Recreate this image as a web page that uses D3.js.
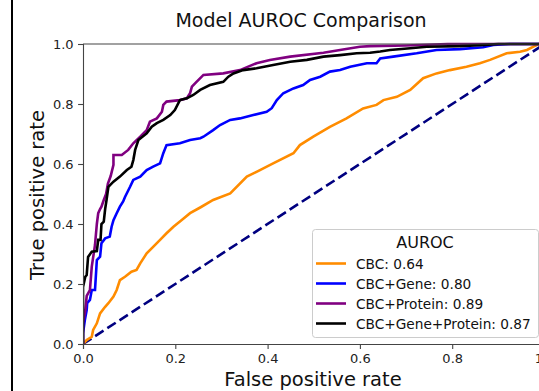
<!DOCTYPE html>
<html><head><meta charset="utf-8">
<script src="https://cdn.jsdelivr.net/npm/d3@7"></script>
<style>body{margin:0;background:#fff;} text{font-family:"DejaVu Sans",sans-serif;}</style>
</head><body>
<script>
// ---- data ----
const cbcFpr = [0,0.008,0.019,0.022,0.03,0.037,0.048,0.055,0.066,0.073,0.08,0.091,0.105,0.116,0.124,0.138,0.152,0.167,0.181,0.196,0.214,0.232,0.254,0.282,0.319,0.355,0.376,0.412,0.456,0.47,0.499,0.535,0.571,0.607,0.636,0.651,0.68,0.709,0.737,0.766,0.795,0.831,0.86,0.882,0.918,0.947,0.962,0.976,0.988,1];
const cbcTpr = [0,0.013,0.024,0.047,0.069,0.102,0.124,0.136,0.158,0.18,0.213,0.224,0.241,0.247,0.269,0.302,0.324,0.347,0.369,0.391,0.413,0.436,0.455,0.48,0.502,0.558,0.574,0.602,0.636,0.663,0.691,0.724,0.752,0.785,0.797,0.813,0.824,0.847,0.886,0.902,0.913,0.924,0.936,0.947,0.969,0.974,0.98,0.991,1.0,1.0];
const geneFpr = [0,0,0.004,0.008,0.009,0.015,0.019,0.026,0.03,0.037,0.04,0.048,0.058,0.062,0.066,0.073,0.08,0.087,0.091,0.102,0.109,0.124,0.138,0.152,0.167,0.174,0.181,0.21,0.232,0.254,0.261,0.282,0.297,0.319,0.34,0.369,0.398,0.409,0.42,0.434,0.456,0.477,0.492,0.514,0.535,0.557,0.579,0.615,0.636,0.644,0.672,0.723,0.766,0.817,0.867,0.889,0.925,1];
const geneTpr = [0,0.036,0.08,0.113,0.136,0.147,0.18,0.18,0.28,0.291,0.336,0.352,0.358,0.391,0.413,0.436,0.458,0.475,0.49,0.524,0.547,0.558,0.58,0.591,0.602,0.636,0.663,0.669,0.68,0.686,0.691,0.713,0.73,0.747,0.752,0.763,0.774,0.786,0.813,0.836,0.852,0.863,0.88,0.891,0.908,0.913,0.924,0.936,0.936,0.952,0.958,0.969,0.98,0.983,0.989,0.997,1,1];
const protFpr = [0,0,0.005,0.008,0.015,0.019,0.026,0.03,0.033,0.037,0.04,0.045,0.05,0.054,0.06,0.066,0.066,0.084,0.098,0.109,0.124,0.138,0.145,0.16,0.171,0.174,0.181,0.21,0.225,0.232,0.236,0.246,0.261,0.304,0.34,0.376,0.405,0.449,0.521,0.557,0.6,0.622,0.7,0.79,1];
const protTpr = [0,0.07,0.113,0.16,0.18,0.258,0.33,0.4,0.436,0.45,0.458,0.48,0.5,0.535,0.56,0.597,0.63,0.63,0.647,0.669,0.691,0.713,0.741,0.752,0.774,0.797,0.808,0.813,0.819,0.836,0.858,0.874,0.897,0.902,0.913,0.936,0.947,0.958,0.971,0.98,0.991,0.993,0.995,1,1];
const allFpr = [0,0,0.005,0.008,0.011,0.019,0.03,0.033,0.038,0.04,0.045,0.048,0.051,0.055,0.066,0.08,0.095,0.105,0.109,0.113,0.12,0.138,0.149,0.16,0.174,0.189,0.199,0.21,0.225,0.239,0.254,0.275,0.304,0.315,0.326,0.347,0.376,0.412,0.449,0.485,0.521,0.557,0.593,0.622,0.644,0.665,0.709,0.745,0.817,0.87,0.9,1];
const allTpr = [0,0.19,0.224,0.23,0.29,0.308,0.31,0.347,0.347,0.4,0.408,0.45,0.48,0.524,0.541,0.558,0.58,0.591,0.613,0.647,0.68,0.702,0.724,0.736,0.747,0.763,0.78,0.813,0.819,0.83,0.847,0.863,0.874,0.891,0.902,0.913,0.919,0.93,0.941,0.947,0.958,0.963,0.969,0.971,0.975,0.98,0.986,0.991,0.993,0.997,1,1];
const modelNames = ["CBC","CBC+Gene","CBC+Protein","CBC+Gene+Protein"];
const aucValues = [0.64,0.80,0.89,0.87];
const modelColors = ["#ff8c00","#0000ff","#800080","#000000"];
const tickValues = [0,0.2,0.4,0.6,0.8,1.0];

const series = [
  {fpr: cbcFpr, tpr: cbcTpr},
  {fpr: geneFpr, tpr: geneTpr},
  {fpr: protFpr, tpr: protTpr},
  {fpr: allFpr, tpr: allTpr}
];

const W = 539, H = 391;
const X0 = 83, X1 = 544.5, Y0 = 344, Y1 = 44;
const svg = d3.select("body").append("svg").attr("width", W).attr("height", H);

// left border line
svg.append("line").attr("x1",12).attr("x2",12).attr("y1",0).attr("y2",H)
  .attr("stroke","#000").attr("stroke-width",2);

const x = d3.scaleLinear().domain([0,1]).range([X0, X1]);
const y = d3.scaleLinear().domain([0,1]).range([Y0, Y1]);

svg.append("defs").append("clipPath").attr("id","clip")
  .append("rect").attr("x",X0).attr("y",Y1-2).attr("width",X1-X0+2).attr("height",Y0-Y1+4);

const g = svg.append("g").attr("clip-path","url(#clip)");
const line = d3.line().x(d=>x(d[0])).y(d=>y(d[1]));

// chance line
g.append("path").datum([[0,0],[1,1]]).attr("d",line)
  .attr("fill","none").attr("stroke","#000080").attr("stroke-width",2.6)
  .attr("stroke-dasharray","10,4.5");

series.forEach((s,i)=>{
  const pts = s.fpr.map((f,j)=>[f, s.tpr[j]]);
  g.append("path").datum(pts).attr("d",line)
    .attr("fill","none").attr("stroke",modelColors[i]).attr("stroke-width",2.6)
    .attr("stroke-linejoin","miter");
});

// axes
const xAxis = d3.axisBottom(x).tickValues(tickValues).tickFormat(d3.format(".1f")).tickSizeOuter(0).tickSize(4.9).tickPadding(4.5);
const yAxis = d3.axisLeft(y).tickValues(tickValues).tickFormat(d3.format(".1f")).tickSizeOuter(0).tickSize(4.9).tickPadding(4.5);
const gx = svg.append("g").attr("transform",`translate(0,${Y0})`).call(xAxis);
const gy = svg.append("g").attr("transform",`translate(${X0},0)`).call(yAxis);
[gx,gy].forEach(a=>{
  a.selectAll("text").attr("font-size",13).attr("fill","#222").style("font-family","DejaVu Sans");
  a.selectAll("line,path").attr("stroke","#444").attr("stroke-width",1.1);
});
// top & right spines
svg.append("line").attr("x1",X0).attr("x2",X1).attr("y1",Y1).attr("y2",Y1)
  .attr("stroke","#444").attr("stroke-width",1.1);
svg.append("line").attr("x1",X1).attr("x2",X1).attr("y1",Y1).attr("y2",Y0)
  .attr("stroke","#444").attr("stroke-width",1.1);

// titles
svg.append("text").attr("x",301).attr("y",27).attr("text-anchor","middle")
  .attr("font-size",19).attr("fill","#111").text("Model AUROC Comparison");
svg.append("text").attr("x",313).attr("y",386).attr("text-anchor","middle")
  .attr("font-size",19.5).attr("fill","#111").text("False positive rate");
svg.append("text").attr("transform","translate(44,195) rotate(-90)").attr("text-anchor","middle")
  .attr("font-size",19.5).attr("fill","#111").text("True positive rate");

// legend
const lg = svg.append("g");
lg.append("rect").attr("x",312.5).attr("y",229.5).attr("width",226).attr("height",108).attr("rx",3)
  .attr("fill","#fff").attr("fill-opacity",0.85).attr("stroke","#ccc").attr("stroke-width",1);
lg.append("text").attr("x",425).attr("y",248).attr("text-anchor","middle").attr("font-size",16).attr("fill","#111").text("AUROC");
modelNames.forEach((n,i)=>{
  const yy = 263.5 + i*20;
  lg.append("line").attr("x1",316).attr("x2",346).attr("y1",yy).attr("y2",yy)
    .attr("stroke",modelColors[i]).attr("stroke-width",2.6);
  lg.append("text").attr("x",356).attr("y",yy+5).attr("font-size",13.7).attr("fill","#111")
    .text(`${n}: ${aucValues[i].toFixed(2)}`);
});
</script>
</body></html>
